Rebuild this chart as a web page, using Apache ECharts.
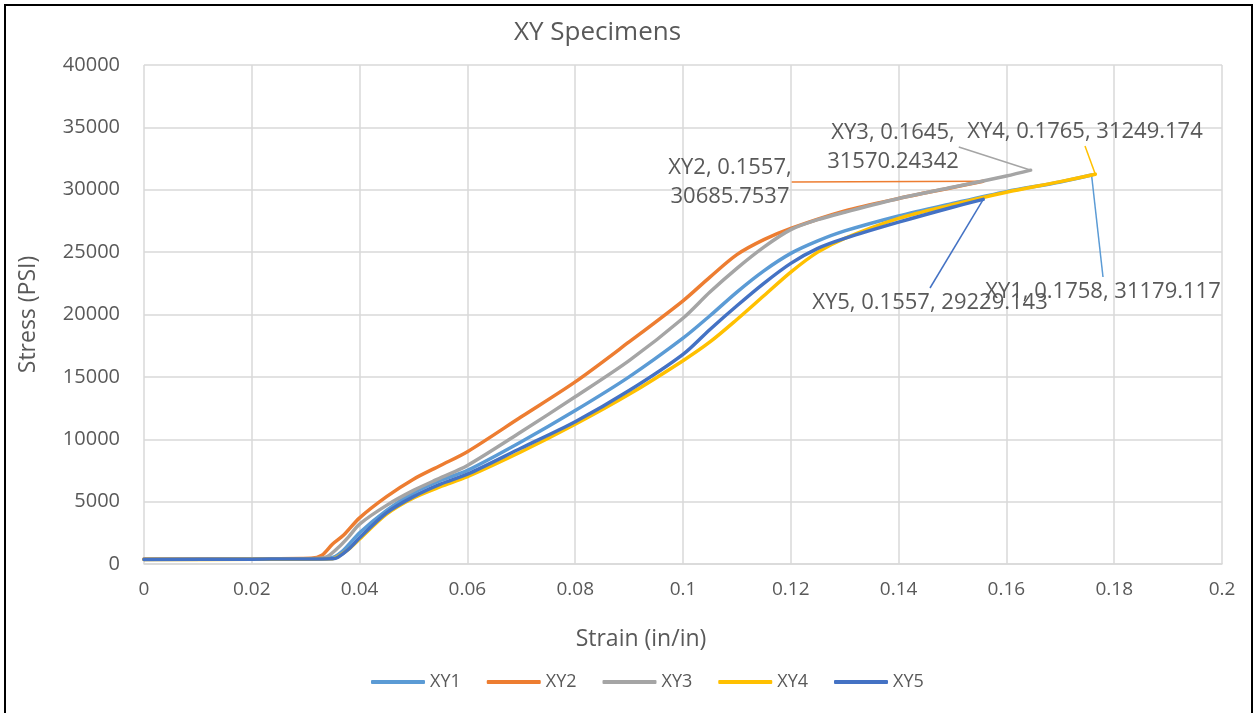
<!DOCTYPE html>
<html>
<head>
<meta charset="utf-8">
<script src="https://cdn.jsdelivr.net/npm/echarts@6/dist/echarts.min.js"></script>
<style>
html,body{margin:0;padding:0;background:#fff;}
#chart{position:absolute;left:0;top:0;width:1254px;height:713px;}
#frame{position:absolute;left:4px;top:4px;width:1245px;height:720px;border:2px solid #000;pointer-events:none;}
</style>
</head>
<body>
<div id="chart"></div>
<div id="frame"></div>
<script>
const seriesNames = ['XY1','XY2','XY3','XY4','XY5'];
const seriesColors = ['#5B9BD5','#ED7D31','#A5A5A5','#FFC000','#4472C4'];

const xy1 = [[0,380],[0.02,400],[0.033,440],[0.035,520],[0.037,1100],[0.04,2500],[0.045,4300],[0.05,5700],[0.055,6700],[0.06,7500],[0.07,9800],[0.08,12300],[0.09,15000],[0.1,18100],[0.105,19900],[0.11,21800],[0.115,23500],[0.12,24900],[0.125,25900],[0.13,26700],[0.14,27900],[0.15,28900],[0.16,29850],[0.17,30620],[0.1758,31179.117]];
const xy2 = [[0,400],[0.02,420],[0.031,460],[0.033,700],[0.035,1600],[0.037,2300],[0.04,3700],[0.045,5400],[0.05,6800],[0.055,7900],[0.06,9000],[0.07,11800],[0.08,14600],[0.09,17800],[0.1,21100],[0.105,23000],[0.11,24800],[0.115,26000],[0.12,26900],[0.13,28300],[0.14,29300],[0.15,30180],[0.1557,30685.7537]];
const xy3 = [[0,400],[0.02,420],[0.032,450],[0.034,600],[0.036,1300],[0.038,2200],[0.04,3200],[0.045,4700],[0.05,5900],[0.055,6900],[0.06,7900],[0.07,10600],[0.08,13400],[0.09,16300],[0.1,19700],[0.105,21800],[0.11,23700],[0.115,25400],[0.12,26800],[0.125,27600],[0.13,28200],[0.14,29300],[0.15,30200],[0.16,31100],[0.1645,31570.24342]];
const xy4 = [[0,360],[0.02,380],[0.035,420],[0.036,600],[0.038,1200],[0.04,2000],[0.045,4000],[0.05,5300],[0.055,6200],[0.06,7000],[0.07,9000],[0.08,11200],[0.09,13600],[0.1,16300],[0.105,17800],[0.11,19600],[0.115,21500],[0.12,23400],[0.125,25000],[0.13,26100],[0.14,27700],[0.15,28800],[0.16,29800],[0.17,30650],[0.1765,31249.174]];
const xy5 = [[0,370],[0.02,390],[0.035,430],[0.036,550],[0.038,1200],[0.04,2100],[0.045,4100],[0.05,5400],[0.055,6400],[0.06,7200],[0.07,9300],[0.08,11400],[0.09,13900],[0.1,16800],[0.105,18800],[0.11,20700],[0.115,22500],[0.12,24100],[0.125,25300],[0.13,26100],[0.14,27400],[0.15,28600],[0.1557,29229.143]];
const seriesData = [xy1, xy2, xy3, xy4, xy5];

// end-point annotation texts
const endLabels = [
  'XY1, 0.1758, 31179.117',
  'XY2, 0.1557,\n30685.7537',
  'XY3, 0.1645,\n31570.24342',
  'XY4, 0.1765, 31249.174',
  'XY5, 0.1557, 29229.143'
];
// label placement (centre x, top y) in pixels
const labelPlace = [
  {x:1103, y:277},
  {x:730, y:153},
  {x:893, y:118},
  {x:1085, y:117},
  {x:930, y:288}
];

const FONT = 'Open Sans';
const TXT = '#595959';

const chart = echarts.init(document.getElementById('chart'), null, {renderer:'canvas'});

const series = seriesNames.map((name, si) => {
  const d = seriesData[si];
  const data = d.map((p, i) => {
    if (i === d.length - 1) {
      return {
        value: p,
        symbol: 'circle',
        symbolSize: 1,
        label: {
          show: true,
          formatter: endLabels[si],
          fontFamily: FONT,
          fontSize: 22,
          lineHeight: 29,
          color: TXT,
          align: 'center'
        },
        labelLine: {show: true, lineStyle: {color: seriesColors[si], width: 1.5}}
      };
    }
    return {value: p};
  });
  return {
    name: name,
    type: 'line',
    smooth: 0.3,
    symbol: 'none',
    showSymbol: true,
    data: data,
    color: seriesColors[si],
    lineStyle: {width: 3.5, color: seriesColors[si], cap: 'round', join: 'round'},
    emphasis: {disabled: true},
    animation: false,
    z: 2 + si,
    labelLine: {show: true, lineStyle: {color: seriesColors[si], width: 1.5}},
    labelLayout: function (params) {
      const pl = labelPlace[params.seriesIndex];
      return {x: pl.x, y: pl.y, align: 'center', verticalAlign: 'top'};
    }
  };
});

chart.setOption({
  animation: false,
  backgroundColor: '#ffffff',
  title: {
    text: 'XY Specimens',
    left: 509,
    top: 15,
    textStyle: {fontFamily: FONT, fontSize: 26, fontWeight: 'normal', color: TXT}
  },
  grid: {left: 144, right: 32, top: 65, bottom: 149, containLabel: false},
  legend: {
    data: seriesNames,
    bottom: 17,
    left: 366,
    icon: 'roundRect',
    itemWidth: 54,
    itemHeight: 4,
    itemGap: 26,
    textStyle: {fontFamily: FONT, fontSize: 18, color: TXT}
  },
  xAxis: {
    type: 'value',
    min: 0,
    max: 0.2,
    interval: 0.02,
    name: 'Strain (in/in)',
    nameLocation: 'middle',
    nameGap: 64,
    nameTextStyle: {fontFamily: FONT, fontSize: 23, color: TXT, padding: [0, 84, 0, 0]},
    axisLine: {show: true, lineStyle: {color: '#d9d9d9', width: 1.5}},
    axisTick: {show: false},
    axisLabel: {fontFamily: FONT, fontSize: 19, color: TXT, margin: 16,
      formatter: function (v) { return String(+v.toFixed(2)); }},
    splitLine: {show: true, lineStyle: {color: '#d9d9d9', width: 1.5}}
  },
  yAxis: {
    type: 'value',
    min: 0,
    max: 40000,
    interval: 5000,
    name: 'Stress (PSI)',
    nameLocation: 'middle',
    nameGap: 104,
    nameTextStyle: {fontFamily: FONT, fontSize: 23, color: TXT},
    axisLine: {show: false},
    axisTick: {show: false},
    axisLabel: {fontFamily: FONT, fontSize: 20, color: TXT, margin: 24,
      formatter: function (v) { return String(Math.round(v)); }},
    splitLine: {show: true, lineStyle: {color: '#d9d9d9', width: 1.5}}
  },
  series: series
});
</script>
</body>
</html>
